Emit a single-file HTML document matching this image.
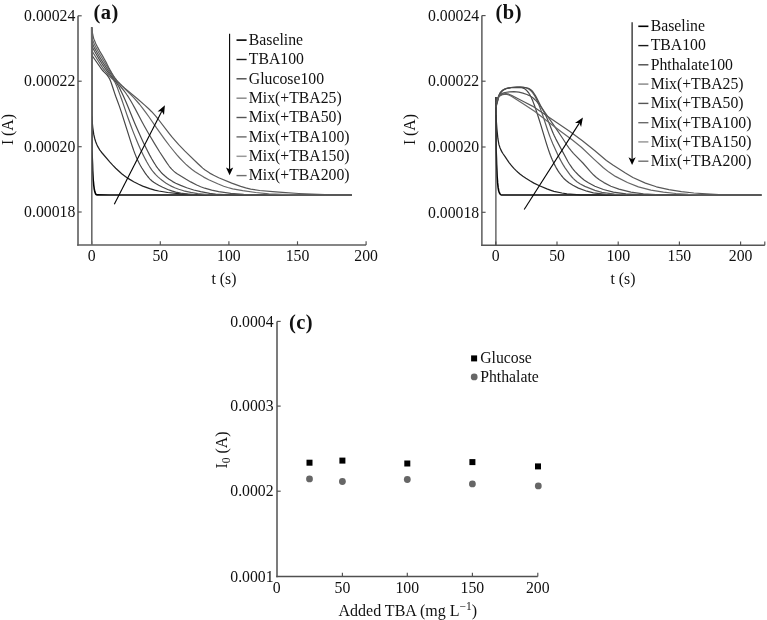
<!DOCTYPE html>
<html lang="en">
<head>
<meta charset="utf-8">
<title>Figure: current transients with added TBA</title>
<style>
html,body{margin:0;padding:0;background:#fff;}
body{width:767px;height:620px;overflow:hidden;}
svg{display:block;will-change:transform;font-family:'Liberation Serif', 'Times New Roman', serif;fill:#111;}
svg text{fill:#111;}
</style>
</head>
<body>
<svg width="767" height="620" viewBox="0 0 767 620">
<path d="M78.0,15.8 L78.0,245.80" fill="none" stroke="#5e5e5e" stroke-width="1.6"/>
<path d="M77.20,245.0 L366.1,245.0" fill="none" stroke="#5e5e5e" stroke-width="1.6"/>
<path d="M91.7,245.0 L91.7,241.3" stroke="#505050" stroke-width="1.15"/>
<path d="M160.3,245.0 L160.3,241.3" stroke="#505050" stroke-width="1.15"/>
<path d="M228.9,245.0 L228.9,241.3" stroke="#505050" stroke-width="1.15"/>
<path d="M297.5,245.0 L297.5,241.3" stroke="#505050" stroke-width="1.15"/>
<path d="M366.1,245.0 L366.1,241.3" stroke="#505050" stroke-width="1.15"/>
<path d="M78.0,15.8 L81.7,15.8" stroke="#505050" stroke-width="1.15"/>
<path d="M78.0,81.2 L81.7,81.2" stroke="#505050" stroke-width="1.15"/>
<path d="M78.0,146.7 L81.7,146.7" stroke="#505050" stroke-width="1.15"/>
<path d="M78.0,212.0 L81.7,212.0" stroke="#505050" stroke-width="1.15"/>
<text x="91.7" y="260.9" text-anchor="middle" font-size="15.75" font-weight="normal" >0</text>
<text x="160.3" y="260.9" text-anchor="middle" font-size="15.75" font-weight="normal" >50</text>
<text x="228.9" y="260.9" text-anchor="middle" font-size="15.75" font-weight="normal" >100</text>
<text x="297.5" y="260.9" text-anchor="middle" font-size="15.75" font-weight="normal" >150</text>
<text x="366.1" y="260.9" text-anchor="middle" font-size="15.75" font-weight="normal" >200</text>
<text x="75.3" y="21.0" text-anchor="end" font-size="15.75" font-weight="normal" >0.00024</text>
<text x="75.3" y="86.4" text-anchor="end" font-size="15.75" font-weight="normal" >0.00022</text>
<text x="75.3" y="151.89999999999998" text-anchor="end" font-size="15.75" font-weight="normal" >0.00020</text>
<text x="75.3" y="217.2" text-anchor="end" font-size="15.75" font-weight="normal" >0.00018</text>
<text x="224" y="284.2" text-anchor="middle" font-size="15.75" font-weight="normal" >t (s)</text>
<text x="0" y="0" text-anchor="middle" font-size="15.75" font-weight="normal" transform="translate(13,129.6) rotate(-90)">I (A)</text>
<text x="93.6" y="19.3" text-anchor="start" font-size="20.5" font-weight="bold" letter-spacing="0.4">(a)</text>
<path d="M91.7,27.3 L92.0,150.6 L92.2,157.6 L92.5,164.3 L92.7,170.8 L93.0,176.2 L93.2,180.0 L93.5,182.7 L93.7,185.0 L94.0,187.0 L94.2,188.8 L94.5,190.2 L94.7,191.3 L95.0,192.2 L95.2,192.9 L95.5,193.5 L95.7,194.0 L96.0,194.4 L96.2,194.6 L97.0,194.9 L109.2,195.0 L121.5,195.0 L133.7,195.0 L145.9,195.0 L158.2,195.0 L170.4,195.0 L182.7,195.0 L194.9,195.0 L207.2,195.0 L219.4,195.0 L231.7,195.0 L243.9,195.0 L256.2,195.0 L268.4,195.0 L280.7,195.0 L292.9,195.0 L305.2,195.0 L317.4,195.0 L329.7,195.0 L341.9,195.0 L351.5,195.0" fill="none" stroke="#000" stroke-width="1.6"/>
<path d="M91.7,116.3 L92.7,127.1 L93.7,134.2 L94.7,138.5 L95.7,141.7 L96.7,144.3 L97.7,146.4 L98.7,148.2 L99.7,149.8 L100.7,151.2 L101.7,152.5 L109.7,161.8 L112.7,165.1 L115.7,168.2 L118.7,171.0 L121.7,173.7 L123.7,175.3 L126.7,177.5 L129.7,179.4 L133.7,181.8 L138.7,184.3 L142.7,186.1 L149.7,188.6 L154.7,190.1 L158.7,191.0 L167.7,192.5 L180.7,193.8 L193.7,194.5 L206.7,194.9 L219.7,195.0 L232.7,195.0 L245.7,195.0 L258.7,195.0 L271.7,195.0 L284.7,195.0 L297.7,195.0 L310.7,195.0 L323.7,195.0 L336.7,195.0 L349.7,195.0 L351.5,195.0" fill="none" stroke="#222" stroke-width="1.25"/>
<path d="M91.7,55.0 L99.7,66.5 L101.7,69.3 L102.7,70.5 L103.7,71.7 L106.7,74.7 L107.7,75.9 L108.7,77.3 L109.7,79.1 L110.7,81.4 L111.7,84.2 L112.7,87.2 L114.7,93.4 L115.7,96.3 L118.7,104.4 L119.7,107.1 L120.7,110.1 L121.7,113.1 L126.7,128.9 L129.7,138.4 L131.7,144.6 L132.7,147.5 L133.7,150.4 L134.7,153.1 L135.7,155.6 L136.7,158.0 L137.7,160.2 L138.7,162.3 L139.7,164.2 L140.7,166.0 L141.7,167.7 L142.7,169.3 L144.7,172.4 L145.7,173.8 L146.7,175.2 L147.7,176.5 L148.7,177.7 L149.7,178.8 L150.7,179.8 L151.7,180.7 L152.7,181.5 L153.7,182.3 L155.7,183.6 L158.7,185.3 L162.7,187.3 L167.7,189.5 L171.7,190.9 L175.7,192.1 L180.7,193.2 L187.7,194.2 L195.7,194.8 L208.7,195.0 L221.7,195.0 L234.7,195.0 L247.7,195.0 L260.7,195.0 L273.7,195.0 L286.7,195.0 L299.7,195.0 L312.7,195.0 L325.7,195.0 L338.7,195.0 L351.5,195.0" fill="none" stroke="#444" stroke-width="1.2" stroke-linejoin="round"/>
<path d="M91.7,50.5 L99.7,63.3 L100.7,64.9 L101.7,66.4 L102.7,67.8 L104.7,70.4 L107.7,74.0 L109.7,76.3 L112.7,79.2 L113.7,80.4 L114.7,81.8 L115.7,83.7 L116.7,86.0 L117.7,88.6 L119.7,94.1 L121.7,99.5 L122.7,102.4 L126.7,114.1 L127.7,117.0 L128.7,119.8 L130.7,125.3 L132.7,130.6 L134.7,135.6 L136.7,140.5 L138.7,145.2 L140.7,149.7 L142.7,153.9 L143.7,156.0 L144.7,158.0 L145.7,159.9 L146.7,161.8 L147.7,163.5 L148.7,165.2 L149.7,166.8 L150.7,168.3 L151.7,169.8 L152.7,171.1 L153.7,172.3 L154.7,173.5 L155.7,174.6 L157.7,176.6 L159.7,178.4 L161.7,180.0 L163.7,181.5 L165.7,182.9 L168.7,184.8 L171.7,186.4 L174.7,187.8 L178.7,189.3 L183.7,190.8 L190.7,192.4 L197.7,193.6 L207.7,194.6 L220.7,195.0 L233.7,195.0 L246.7,195.0 L259.7,195.0 L272.7,195.0 L285.7,195.0 L298.7,195.0 L311.7,195.0 L324.7,195.0 L337.7,195.0 L350.7,195.0 L351.5,195.0" fill="none" stroke="#5c5c5c" stroke-width="1.2" stroke-linejoin="round"/>
<path d="M91.7,46.0 L94.7,51.5 L97.7,56.7 L99.7,60.1 L101.7,63.3 L103.7,66.3 L105.7,69.1 L108.7,73.1 L109.7,74.4 L113.7,79.1 L114.7,80.3 L115.7,81.6 L116.7,83.1 L117.7,84.7 L118.7,86.5 L119.7,88.4 L120.7,90.4 L121.7,92.4 L123.7,96.7 L124.7,98.9 L125.7,101.3 L127.7,106.1 L133.7,120.8 L135.7,125.5 L137.7,130.1 L140.7,136.7 L143.7,143.2 L145.7,147.3 L147.7,151.3 L149.7,155.1 L151.7,158.7 L153.7,162.1 L154.7,163.7 L155.7,165.3 L156.7,166.8 L157.7,168.2 L158.7,169.5 L159.7,170.7 L160.7,171.9 L161.7,173.0 L162.7,174.0 L164.7,175.8 L166.7,177.5 L168.7,179.0 L170.7,180.3 L172.7,181.6 L175.7,183.2 L180.7,185.4 L186.7,187.8 L193.7,190.0 L200.7,191.7 L209.7,193.4 L215.7,194.1 L228.7,194.9 L241.7,195.0 L254.7,195.0 L267.7,195.0 L280.7,195.0 L293.7,195.0 L306.7,195.0 L319.7,195.0 L332.7,195.0 L345.7,195.0 L351.5,195.0" fill="none" stroke="#4a4a4a" stroke-width="1.2" stroke-linejoin="round"/>
<path d="M91.7,41.5 L92.7,44.1 L93.7,46.4 L94.7,48.4 L95.7,50.2 L98.7,55.5 L100.7,58.9 L102.7,62.1 L105.7,66.7 L108.7,71.1 L111.7,75.2 L119.7,85.5 L123.7,90.4 L125.7,93.0 L126.7,94.5 L127.7,95.9 L128.7,97.5 L130.7,100.8 L132.7,104.3 L134.7,107.9 L141.7,121.3 L144.7,126.8 L148.7,133.8 L154.7,143.9 L159.7,152.0 L164.7,159.7 L166.7,162.7 L168.7,165.5 L169.7,166.8 L170.7,168.0 L171.7,169.1 L172.7,170.1 L173.7,171.1 L174.7,171.9 L176.7,173.4 L185.7,179.1 L190.7,181.9 L196.7,185.0 L200.7,186.7 L204.7,188.2 L211.7,190.2 L218.7,191.7 L230.7,193.4 L243.7,194.4 L256.7,194.9 L269.7,195.0 L282.7,195.0 L295.7,195.0 L308.7,195.0 L321.7,195.0 L334.7,195.0 L347.7,195.0 L351.5,195.0" fill="none" stroke="#525252" stroke-width="1.2" stroke-linejoin="round"/>
<path d="M91.7,37.0 L92.7,40.1 L93.7,42.7 L94.7,45.0 L95.7,47.0 L96.7,48.9 L97.7,50.8 L98.7,52.5 L107.7,67.4 L112.7,75.4 L113.7,76.9 L114.7,78.3 L115.7,79.6 L116.7,80.8 L117.7,81.8 L130.7,94.5 L133.7,97.6 L136.7,101.0 L139.7,104.5 L142.7,108.3 L145.7,112.3 L148.7,116.5 L156.7,128.2 L164.7,139.3 L169.7,146.0 L173.7,151.0 L176.7,154.6 L179.7,158.0 L182.7,161.1 L185.7,164.1 L188.7,166.8 L191.7,169.2 L194.7,171.4 L198.7,174.1 L203.7,177.1 L208.7,179.7 L217.7,183.8 L223.7,186.2 L227.7,187.5 L232.7,188.9 L242.7,190.7 L255.7,192.5 L268.7,193.8 L281.7,194.4 L294.7,194.8 L307.7,195.0 L320.7,195.0 L333.7,195.0 L346.7,195.0 L351.5,195.0" fill="none" stroke="#666" stroke-width="1.2" stroke-linejoin="round"/>
<path d="M91.7,27.3 L92.7,34.5 L93.7,38.6 L94.7,41.1 L95.7,43.4 L96.7,45.4 L97.7,47.4 L99.7,51.1 L102.7,56.1 L104.7,59.7 L106.7,63.4 L108.7,67.5 L109.7,69.4 L111.7,72.9 L112.7,74.5 L113.7,76.1 L114.7,77.6 L115.7,78.9 L116.7,80.2 L117.7,81.3 L119.7,83.4 L121.7,85.4 L124.7,88.1 L137.7,99.0 L144.7,105.1 L148.7,108.8 L151.7,111.7 L153.7,113.9 L155.7,116.1 L157.7,118.5 L168.7,132.9 L171.7,136.7 L174.7,140.2 L178.7,144.7 L184.7,150.9 L197.7,163.5 L200.7,166.3 L202.7,168.1 L204.7,169.7 L206.7,171.1 L209.7,173.1 L213.7,175.3 L218.7,177.8 L231.7,183.1 L240.7,186.4 L245.7,187.9 L250.7,189.1 L259.7,190.5 L272.7,191.7 L285.7,192.7 L298.7,193.5 L311.7,194.2 L324.7,194.7 L337.7,195.0 L350.7,195.0 L351.5,195.0" fill="none" stroke="#585858" stroke-width="1.2" stroke-linejoin="round"/>
<path d="M91.8,245.0 L91.8,27.3" stroke="#6a6a6a" stroke-width="1.6"/>
<path d="M114.3,204.3 L161.8,111.2" stroke="#000" stroke-width="1.1" fill="none"/>
<path d="M164.9,105.2 L164.0,114.9 L161.8,111.2 L157.6,111.6 Z" fill="#000"/>
<path d="M236.5,40.1 L246.6,40.1" stroke="#000" stroke-width="1.6"/>
<text x="248.8" y="44.9" text-anchor="start" font-size="15.75" font-weight="normal" >Baseline</text>
<path d="M236.5,59.5 L246.6,59.5" stroke="#181818" stroke-width="1.4"/>
<text x="248.8" y="64.3" text-anchor="start" font-size="15.75" font-weight="normal" >TBA100</text>
<path d="M236.5,78.8 L246.6,78.8" stroke="#4a4a4a" stroke-width="1.4"/>
<text x="248.8" y="83.6" text-anchor="start" font-size="15.75" font-weight="normal" >Glucose100</text>
<path d="M236.5,98.2 L246.6,98.2" stroke="#8c8c8c" stroke-width="1.5"/>
<text x="248.8" y="103.0" text-anchor="start" font-size="15.75" font-weight="normal" >Mix(+TBA25)</text>
<path d="M236.5,117.5 L246.6,117.5" stroke="#555" stroke-width="1.4"/>
<text x="248.8" y="122.3" text-anchor="start" font-size="15.75" font-weight="normal" >Mix(+TBA50)</text>
<path d="M236.5,136.9 L246.6,136.9" stroke="#6a6a6a" stroke-width="1.4"/>
<text x="248.8" y="141.7" text-anchor="start" font-size="15.75" font-weight="normal" >Mix(+TBA100)</text>
<path d="M236.5,156.3 L246.6,156.3" stroke="#9a9a9a" stroke-width="1.5"/>
<text x="248.8" y="161.1" text-anchor="start" font-size="15.75" font-weight="normal" >Mix(+TBA150)</text>
<path d="M236.5,175.6 L246.6,175.6" stroke="#6e6e6e" stroke-width="1.4"/>
<text x="248.8" y="180.4" text-anchor="start" font-size="15.75" font-weight="normal" >Mix(+TBA200)</text>
<path d="M229.6,33.7 L229.6,169.3" stroke="#000" stroke-width="1.1" fill="none"/>
<path d="M229.6,175.2 L226.0,167.4 L229.6,169.3 L233.2,167.4 Z" fill="#000"/>
<path d="M481.9,15.6 L481.9,246.10" fill="none" stroke="#424242" stroke-width="1.3"/>
<path d="M481.25,245.3 L764.8,245.3" fill="none" stroke="#555" stroke-width="1.6"/>
<path d="M495.8,245.3 L495.8,241.60000000000002" stroke="#505050" stroke-width="1.15"/>
<path d="M557.0,245.3 L557.0,241.60000000000002" stroke="#505050" stroke-width="1.15"/>
<path d="M618.2,245.3 L618.2,241.60000000000002" stroke="#505050" stroke-width="1.15"/>
<path d="M679.4,245.3 L679.4,241.60000000000002" stroke="#505050" stroke-width="1.15"/>
<path d="M740.6,245.3 L740.6,241.60000000000002" stroke="#505050" stroke-width="1.15"/>
<path d="M764.8,245.3 L764.8,241.60000000000002" stroke="#505050" stroke-width="1.15"/>
<path d="M481.9,15.6 L485.59999999999997,15.6" stroke="#505050" stroke-width="1.15"/>
<path d="M481.9,81.2 L485.59999999999997,81.2" stroke="#505050" stroke-width="1.15"/>
<path d="M481.9,147.0 L485.59999999999997,147.0" stroke="#505050" stroke-width="1.15"/>
<path d="M481.9,212.3 L485.59999999999997,212.3" stroke="#505050" stroke-width="1.15"/>
<text x="495.8" y="260.7" text-anchor="middle" font-size="15.75" font-weight="normal" >0</text>
<text x="557.0" y="260.7" text-anchor="middle" font-size="15.75" font-weight="normal" >50</text>
<text x="618.2" y="260.7" text-anchor="middle" font-size="15.75" font-weight="normal" >100</text>
<text x="679.4" y="260.7" text-anchor="middle" font-size="15.75" font-weight="normal" >150</text>
<text x="740.6" y="260.7" text-anchor="middle" font-size="15.75" font-weight="normal" >200</text>
<text x="479.2" y="20.8" text-anchor="end" font-size="15.75" font-weight="normal" >0.00024</text>
<text x="479.2" y="86.4" text-anchor="end" font-size="15.75" font-weight="normal" >0.00022</text>
<text x="479.2" y="152.2" text-anchor="end" font-size="15.75" font-weight="normal" >0.00020</text>
<text x="479.2" y="217.5" text-anchor="end" font-size="15.75" font-weight="normal" >0.00018</text>
<text x="623" y="284.0" text-anchor="middle" font-size="15.75" font-weight="normal" >t (s)</text>
<text x="0" y="0" text-anchor="middle" font-size="15.75" font-weight="normal" transform="translate(414.6,129.6) rotate(-90)">I (A)</text>
<text x="495.4" y="19.3" text-anchor="start" font-size="20.5" font-weight="bold" letter-spacing="0.6">(b)</text>
<path d="M495.9,97.0 L496.1,150.0 L496.4,157.5 L496.6,164.3 L496.9,170.7 L497.1,176.1 L497.4,180.0 L497.6,182.9 L497.9,185.4 L498.1,187.4 L498.4,189.0 L498.6,190.2 L498.9,191.2 L499.1,192.0 L499.4,192.7 L499.6,193.2 L499.9,193.7 L500.6,194.5 L501.1,194.9 L501.4,195.0 L513.6,195.0 L525.9,195.0 L538.1,195.0 L550.4,195.0 L562.6,195.0 L574.9,195.0 L587.1,195.0 L599.4,195.0 L611.6,195.0 L623.9,195.0 L636.1,195.0 L648.4,195.0 L660.6,195.0 L672.9,195.0 L685.1,195.0 L697.4,195.0 L709.6,195.0 L721.9,195.0 L734.1,195.0 L746.4,195.0 L758.6,195.0 L761.3,195.0" fill="none" stroke="#000" stroke-width="1.6"/>
<path d="M495.9,115.0 L496.9,128.9 L497.9,138.7 L498.9,144.4 L499.9,147.5 L500.9,149.9 L501.9,151.9 L502.9,153.5 L504.9,156.3 L506.9,159.4 L508.9,162.3 L509.9,163.6 L510.9,164.9 L511.9,166.1 L513.9,168.4 L515.9,170.4 L517.9,172.3 L519.9,174.0 L522.9,176.3 L525.9,178.3 L529.9,180.8 L533.9,183.1 L538.9,185.5 L546.9,188.9 L550.9,190.3 L553.9,191.3 L561.9,193.0 L566.9,193.8 L579.9,194.8 L592.9,195.0 L605.9,195.0 L618.9,195.0 L631.9,195.0 L644.9,195.0 L657.9,195.0 L670.9,195.0 L683.9,195.0 L696.9,195.0 L709.9,195.0 L722.9,195.0 L735.9,195.0 L748.9,195.0 L761.3,195.0" fill="none" stroke="#222" stroke-width="1.25"/>
<path d="M495.9,108.0 L496.4,105.9 L496.9,103.9 L497.4,102.0 L498.4,98.1 L498.9,96.4 L499.4,94.9 L499.9,93.8 L500.4,93.1 L500.9,92.4 L501.4,91.8 L501.9,91.2 L502.4,90.7 L502.9,90.3 L503.4,89.9 L504.9,89.1 L506.9,88.3 L510.9,87.5 L516.9,87.0 L519.9,87.1 L521.4,87.4 L522.4,87.6 L523.4,88.1 L524.4,88.6 L525.4,89.4 L526.4,90.2 L527.4,91.3 L528.4,92.5 L528.9,93.2 L529.4,94.0 L529.9,94.8 L530.4,95.7 L530.9,96.7 L531.4,97.7 L531.9,98.9 L532.4,100.0 L533.4,102.6 L534.4,105.3 L536.4,111.1 L538.4,117.2 L540.4,123.6 L545.9,141.8 L547.4,146.6 L548.4,149.6 L549.4,152.5 L550.4,155.2 L551.4,157.7 L552.4,160.1 L553.4,162.3 L554.4,164.4 L555.4,166.3 L556.4,168.1 L557.9,170.6 L559.4,172.8 L561.4,175.5 L562.9,177.3 L564.4,179.0 L566.4,180.8 L568.9,182.8 L572.9,185.3 L578.4,188.1 L586.9,191.2 L593.4,192.8 L605.9,194.4 L618.4,194.9 L630.9,195.0 L643.4,195.0 L655.9,195.0 L668.4,195.0 L680.9,195.0 L693.4,195.0 L705.9,195.0 L718.4,195.0 L730.9,195.0 L743.4,195.0 L755.9,195.0 L761.3,195.0" fill="none" stroke="#444" stroke-width="1.2" stroke-linejoin="round"/>
<path d="M495.9,107.0 L496.4,105.0 L496.9,103.1 L497.4,101.3 L498.4,97.5 L498.9,95.8 L499.4,94.4 L499.9,93.4 L500.4,92.7 L501.4,91.5 L501.9,91.0 L502.4,90.5 L503.4,89.8 L504.9,89.0 L506.9,88.3 L510.9,87.5 L518.4,87.0 L522.9,87.2 L524.9,87.5 L526.4,88.0 L527.9,88.6 L528.9,89.2 L529.9,89.9 L530.9,90.8 L531.9,91.9 L532.9,93.1 L533.9,94.6 L534.9,96.2 L535.9,98.1 L536.9,100.2 L537.9,102.4 L538.9,104.9 L540.4,108.7 L541.9,112.9 L543.4,117.2 L547.4,129.5 L548.4,132.4 L549.4,135.2 L550.4,137.9 L551.4,140.4 L552.9,144.0 L555.4,149.6 L557.9,154.9 L559.9,158.9 L561.4,161.7 L562.9,164.4 L564.9,167.6 L567.4,171.2 L569.9,174.6 L571.9,177.0 L573.4,178.6 L574.9,180.0 L576.9,181.7 L579.9,183.7 L584.9,186.4 L594.9,190.4 L601.9,192.4 L614.4,194.1 L626.9,194.7 L639.4,195.0 L651.9,195.0 L664.4,195.0 L676.9,195.0 L689.4,195.0 L701.9,195.0 L714.4,195.0 L726.9,195.0 L739.4,195.0 L751.9,195.0 L761.3,195.0" fill="none" stroke="#5c5c5c" stroke-width="1.2" stroke-linejoin="round"/>
<path d="M495.9,106.0 L496.9,102.5 L497.4,100.8 L498.4,97.2 L498.9,95.6 L499.4,94.2 L499.9,93.2 L500.4,92.6 L501.4,91.5 L502.4,90.6 L503.4,89.9 L504.9,89.2 L506.9,88.5 L511.4,87.7 L520.4,87.4 L525.4,87.7 L527.4,88.0 L528.4,88.3 L529.4,88.8 L530.4,89.4 L531.4,90.2 L532.4,91.2 L533.4,92.5 L534.4,94.0 L535.4,95.6 L536.9,98.4 L541.4,107.2 L544.4,112.8 L545.9,115.8 L546.9,118.0 L547.9,120.3 L552.4,131.4 L553.4,133.8 L554.4,136.0 L555.9,139.1 L566.4,158.8 L567.9,161.5 L569.4,164.0 L570.9,166.2 L572.4,168.3 L574.9,171.3 L578.4,175.0 L581.4,177.8 L584.4,180.2 L588.4,182.8 L594.9,186.2 L603.4,189.5 L613.4,192.2 L625.9,193.9 L638.4,194.6 L650.9,194.9 L663.4,195.0 L675.9,195.0 L688.4,195.0 L700.9,195.0 L713.4,195.0 L725.9,195.0 L738.4,195.0 L750.9,195.0 L761.3,195.0" fill="none" stroke="#4a4a4a" stroke-width="1.2" stroke-linejoin="round"/>
<path d="M495.9,105.0 L496.4,102.8 L496.9,100.8 L497.4,99.3 L497.9,98.0 L498.4,96.9 L498.9,95.9 L499.4,95.1 L499.9,94.6 L501.4,93.7 L502.9,93.1 L504.9,92.5 L509.4,91.9 L513.9,91.7 L518.9,92.2 L522.9,93.1 L526.9,94.5 L529.4,95.6 L531.4,96.8 L533.4,98.3 L534.9,99.7 L536.4,101.2 L538.4,103.5 L541.4,107.4 L553.9,125.3 L562.4,138.0 L566.9,145.0 L568.9,147.8 L570.9,150.4 L573.4,153.3 L582.9,163.0 L590.4,171.7 L593.4,174.8 L596.4,177.5 L599.4,179.8 L603.9,182.6 L610.9,186.2 L618.9,189.1 L630.9,192.2 L643.4,193.8 L655.9,194.6 L668.4,194.9 L680.9,195.0 L693.4,195.0 L705.9,195.0 L718.4,195.0 L730.9,195.0 L743.4,195.0 L755.9,195.0 L761.3,195.0" fill="none" stroke="#525252" stroke-width="1.2" stroke-linejoin="round"/>
<path d="M495.9,103.0 L496.4,101.5 L496.9,100.1 L497.4,99.0 L497.9,98.2 L498.4,97.4 L498.9,96.8 L499.4,96.3 L499.9,95.9 L501.4,95.1 L502.4,94.7 L504.4,94.4 L505.9,94.4 L506.9,94.5 L507.9,94.7 L509.4,95.2 L511.4,96.3 L523.9,104.2 L534.9,111.6 L547.4,121.2 L559.9,130.8 L572.4,140.0 L581.4,147.3 L593.9,159.1 L603.4,167.8 L608.9,172.1 L615.4,176.4 L627.4,182.5 L638.4,186.9 L650.9,190.1 L663.4,192.1 L675.9,193.5 L688.4,194.3 L700.9,194.8 L713.4,195.0 L725.9,195.0 L738.4,195.0 L750.9,195.0 L761.3,195.0" fill="none" stroke="#666" stroke-width="1.2" stroke-linejoin="round"/>
<path d="M495.9,101.0 L496.4,99.9 L496.9,99.0 L497.4,98.1 L498.4,96.8 L498.9,96.2 L499.4,95.7 L499.9,95.3 L501.4,94.5 L502.4,94.1 L504.4,93.8 L505.9,93.7 L507.4,93.8 L508.9,94.2 L511.4,95.2 L523.9,101.7 L532.4,106.1 L544.9,114.5 L557.4,123.1 L569.9,131.4 L582.4,140.7 L594.9,150.8 L606.4,160.5 L612.9,165.1 L625.4,173.0 L632.9,177.5 L645.4,183.1 L656.4,186.8 L668.9,189.7 L681.4,191.7 L693.9,193.0 L706.4,193.9 L718.9,194.6 L731.4,195.0 L743.9,195.0 L756.4,195.0 L761.3,195.0" fill="none" stroke="#585858" stroke-width="1.2" stroke-linejoin="round"/>
<path d="M495.9,245.3 L495.9,97" stroke="#4a4a4a" stroke-width="1.25"/>
<path d="M524.2,209.5 L579.3,123.1" stroke="#000" stroke-width="1.1" fill="none"/>
<path d="M582.9,117.4 L581.1,126.9 L579.3,123.1 L575.0,123.1 Z" fill="#000"/>
<path d="M638.3,26.3 L648.4,26.3" stroke="#000" stroke-width="1.6"/>
<text x="650.7" y="31.1" text-anchor="start" font-size="15.75" font-weight="normal" >Baseline</text>
<path d="M638.3,45.6 L648.4,45.6" stroke="#181818" stroke-width="1.4"/>
<text x="650.7" y="50.4" text-anchor="start" font-size="15.75" font-weight="normal" >TBA100</text>
<path d="M638.3,64.8 L648.4,64.8" stroke="#4a4a4a" stroke-width="1.4"/>
<text x="650.7" y="69.6" text-anchor="start" font-size="15.75" font-weight="normal" >Phthalate100</text>
<path d="M638.3,84.1 L648.4,84.1" stroke="#8c8c8c" stroke-width="1.5"/>
<text x="650.7" y="88.9" text-anchor="start" font-size="15.75" font-weight="normal" >Mix(+TBA25)</text>
<path d="M638.3,103.4 L648.4,103.4" stroke="#555" stroke-width="1.4"/>
<text x="650.7" y="108.2" text-anchor="start" font-size="15.75" font-weight="normal" >Mix(+TBA50)</text>
<path d="M638.3,122.7 L648.4,122.7" stroke="#6a6a6a" stroke-width="1.4"/>
<text x="650.7" y="127.5" text-anchor="start" font-size="15.75" font-weight="normal" >Mix(+TBA100)</text>
<path d="M638.3,141.9 L648.4,141.9" stroke="#9a9a9a" stroke-width="1.5"/>
<text x="650.7" y="146.7" text-anchor="start" font-size="15.75" font-weight="normal" >Mix(+TBA150)</text>
<path d="M638.3,161.2 L648.4,161.2" stroke="#6e6e6e" stroke-width="1.4"/>
<text x="650.7" y="166.0" text-anchor="start" font-size="15.75" font-weight="normal" >Mix(+TBA200)</text>
<path d="M632.1,22.3 L632.1,159.2" stroke="#000" stroke-width="1.1" fill="none"/>
<path d="M632.1,165.1 L628.5,157.3 L632.1,159.2 L635.7,157.3 Z" fill="#000"/>
<path d="M277.0,321.4 L277.0,577.25" fill="none" stroke="#505050" stroke-width="1.5"/>
<path d="M276.25,576.5 L537.8,576.5" fill="none" stroke="#505050" stroke-width="1.5"/>
<path d="M342.4,576.5 L342.4,572.8" stroke="#505050" stroke-width="1.15"/>
<path d="M407.3,576.5 L407.3,572.8" stroke="#505050" stroke-width="1.15"/>
<path d="M472.4,576.5 L472.4,572.8" stroke="#505050" stroke-width="1.15"/>
<path d="M537.8,576.5 L537.8,572.8" stroke="#505050" stroke-width="1.15"/>
<path d="M277.0,321.4 L280.7,321.4" stroke="#505050" stroke-width="1.15"/>
<path d="M277.0,406.1 L280.7,406.1" stroke="#505050" stroke-width="1.15"/>
<path d="M277.0,491.2 L280.7,491.2" stroke="#505050" stroke-width="1.15"/>
<text x="276.8" y="592.9" text-anchor="middle" font-size="15.75" font-weight="normal" >0</text>
<text x="342.4" y="592.9" text-anchor="middle" font-size="15.75" font-weight="normal" >50</text>
<text x="407.3" y="592.9" text-anchor="middle" font-size="15.75" font-weight="normal" >100</text>
<text x="472.4" y="592.9" text-anchor="middle" font-size="15.75" font-weight="normal" >150</text>
<text x="537.8" y="592.9" text-anchor="middle" font-size="15.75" font-weight="normal" >200</text>
<text x="273.6" y="326.59999999999997" text-anchor="end" font-size="15.75" font-weight="normal" >0.0004</text>
<text x="273.6" y="411.3" text-anchor="end" font-size="15.75" font-weight="normal" >0.0003</text>
<text x="273.6" y="496.4" text-anchor="end" font-size="15.75" font-weight="normal" >0.0002</text>
<text x="273.6" y="581.7" text-anchor="end" font-size="15.75" font-weight="normal" >0.0001</text>
<text x="407.8" y="616" text-anchor="middle" font-size="16">Added TBA (mg L<tspan font-size="11.5" dy="-6">−1</tspan><tspan dy="6">)</tspan></text>
<text transform="translate(226.5,450) rotate(-90)" text-anchor="middle" font-size="15.75">I<tspan font-size="11.5" dy="3.2">0</tspan><tspan dy="-3.2"> (A)</tspan></text>
<text x="289" y="329" text-anchor="start" font-size="20.5" font-weight="bold" letter-spacing="0.4">(c)</text>
<rect x="306.5" y="459.7" width="6" height="6" fill="#000"/>
<rect x="339.4" y="457.6" width="6" height="6" fill="#000"/>
<rect x="404.3" y="460.5" width="6" height="6" fill="#000"/>
<rect x="469.4" y="459.1" width="6" height="6" fill="#000"/>
<rect x="535.0" y="463.4" width="6" height="6" fill="#000"/>
<circle cx="309.5" cy="478.9" r="3.4" fill="#666"/>
<circle cx="342.4" cy="481.5" r="3.4" fill="#666"/>
<circle cx="407.3" cy="479.5" r="3.4" fill="#666"/>
<circle cx="472.4" cy="483.9" r="3.4" fill="#666"/>
<circle cx="538.3" cy="485.9" r="3.4" fill="#666"/>
<rect x="471.1" y="355.4" width="6" height="6" fill="#000"/>
<circle cx="474.2" cy="376.9" r="3.4" fill="#666"/>
<text x="480.2" y="363" text-anchor="start" font-size="15.75" font-weight="normal" >Glucose</text>
<text x="480.2" y="382.2" text-anchor="start" font-size="15.75" font-weight="normal" >Phthalate</text>
</svg>
</body>
</html>
